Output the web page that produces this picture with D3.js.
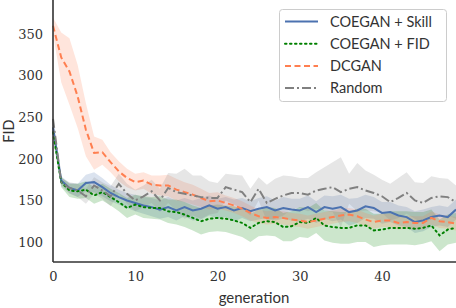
<!DOCTYPE html>
<html><head><meta charset="utf-8">
<script src="https://cdn.jsdelivr.net/npm/d3@7"></script>
<style>body{margin:0;background:#fff}svg{display:block}
</style>
</head><body><svg id="c" width="456" height="308"></svg>
<script>
const generations = d3.range(0, 50);
const xTicks = [0, 10, 20, 30, 40];
const yTicks = [100, 150, 200, 250, 300, 350];
const seriesNames = ["COEGAN + Skill", "COEGAN + FID", "DCGAN", "Random"];

const skillMean = [238,174,165,162,171,172,166,159,154,150,147,144,142,139,142,138,142,138,140,144,140,142,138,141,137,140,142,138,141,139,138,142,136,142,140,142,136,138,143,141,135,136,132,130,124,126,130,132,130,139];
const skillStd  = [8,5,6,8,10,12,11,10,9,9,10,10,11,11,12,12,11,12,13,12,12,12,13,12,12,13,13,12,13,13,14,14,13,14,15,15,16,15,14,13,13,12,12,12,13,13,12,12,12,12];

const fidMean = [232,172,162,161,163,156,160,154,148,141,145,142,141,141,137,136,133,129,125,128,129,128,126,123,117,123,125,124,118,119,124,123,129,120,118,117,117,120,120,114,115,117,117,117,116,117,120,108,115,117];
const fidStd  = [8,6,8,9,10,10,10,10,11,12,12,13,13,14,14,15,15,15,16,16,16,16,17,17,17,16,17,17,17,18,18,18,18,18,19,19,19,20,20,20,19,20,20,20,20,19,19,19,18,18];

const dcganMean = [360,322,305,275,235,207,208,196,185,177,172,174,169,168,168,163,160,157,153,149,150,147,144,140,135,131,129,130,129,127,126,124,126,128,130,132,133,131,127,124,126,126,123,124,123,123,129,125,124,122];
const dcganStd  = [10,30,40,38,32,20,15,12,12,11,10,10,11,12,13,13,12,12,11,10,10,9,9,9,9,8,8,8,8,8,8,8,8,8,8,8,8,8,8,8,8,8,8,8,8,8,8,8,8,8];

const randomMean = [248,172,165,162,155,168,162,155,170,158,150,155,161,150,165,160,158,156,154,153,153,166,163,160,148,164,147,152,156,159,159,157,162,164,166,160,164,166,162,159,155,148,153,159,150,147,153,155,154,148];
const randomStd  = [5,5,7,8,9,10,10,12,12,12,13,13,14,14,18,22,30,24,26,20,18,16,18,20,16,14,22,24,24,20,18,20,22,26,30,42,18,29,24,22,20,22,24,25,22,24,26,22,22,20];

const series = [
  {name: seriesNames[0], mean: skillMean, std: skillStd, color: "#4c72b0", dash: null},
  {name: seriesNames[1], mean: fidMean, std: fidStd, color: "#008000", dash: "1.5,3.5", cap: "round"},
  {name: seriesNames[2], mean: dcganMean, std: dcganStd, color: "#ff7f50", dash: "6,3.5"},
  {name: seriesNames[3], mean: randomMean, std: randomStd, color: "#808080", dash: "9,3,2,3"}
];

const svg = d3.select("#c");
const x = d3.scaleLinear().domain([0, 49]).range([53, 456]);
const y = d3.scaleLinear().domain([76, 391]).range([262, 0]);

const area = d3.area().x((d,i)=>x(generations[i])).y0(d=>y(d[0]-d[1])).y1(d=>y(d[0]+d[1]));
const line = d3.line().x((d,i)=>x(generations[i])).y(d=>y(d));

series.forEach(s => {
  const pairs = s.mean.map((m,i)=>[m, s.std[i]]);
  svg.append("path").attr("d", area(pairs)).attr("fill", s.color).attr("fill-opacity", 0.2).attr("stroke","none");
});
series.forEach(s => {
  svg.append("path").attr("d", line(s.mean)).attr("fill","none").attr("stroke", s.color)
    .attr("stroke-width", 2).attr("stroke-dasharray", s.dash).attr("stroke-linecap", s.cap || "butt");
});

// axes
const xAxis = svg.append("g").attr("transform", "translate(0,262)").call(d3.axisBottom(x).tickValues(xTicks).tickSize(0).tickPadding(10));
const yAxis = svg.append("g").attr("transform", "translate(53,0)").call(d3.axisLeft(y).tickValues(yTicks).tickSize(0).tickPadding(10));
[xAxis, yAxis].forEach(a => {
  a.attr("font-family", "DejaVu Serif").attr("font-size", 13);
  a.select(".domain").attr("stroke", "#333").attr("stroke-width", 1.6);
  a.selectAll("text").attr("fill", "#333");
});
xAxis.select(".domain").attr("d", "M53,0H456");
yAxis.select(".domain").attr("d", "M0,262V0");

svg.append("text").attr("x", 254).attr("y", 303).attr("text-anchor","middle")
  .attr("font-family","Lato, sans-serif").attr("font-size", 15).attr("fill","#333").text("generation");
svg.append("text").attr("transform","translate(14,131) rotate(-90)").attr("text-anchor","middle")
  .attr("font-family","Lato, sans-serif").attr("font-size", 14.5).attr("fill","#333").text("FID");

// legend
const lg = svg.append("g");
lg.append("rect").attr("x", 279.5).attr("y", 9.5).attr("width", 167).attr("height", 92).attr("rx", 3)
  .attr("fill", "#fff").attr("fill-opacity", 0.85).attr("stroke", "#ccc");
series.forEach((s, i) => {
  const yy = 21.5 + i * 22.2;
  lg.append("line").attr("x1", 285).attr("x2", 318).attr("y1", yy).attr("y2", yy)
    .attr("stroke", s.color).attr("stroke-width", 2).attr("stroke-dasharray", s.dash).attr("stroke-linecap", s.cap || "butt");
  lg.append("text").attr("x", 330).attr("y", yy + 5).attr("font-family","Lato, sans-serif").attr("font-size", 14.5)
    .attr("fill","#333").text(s.name);
});
</script></body></html>
